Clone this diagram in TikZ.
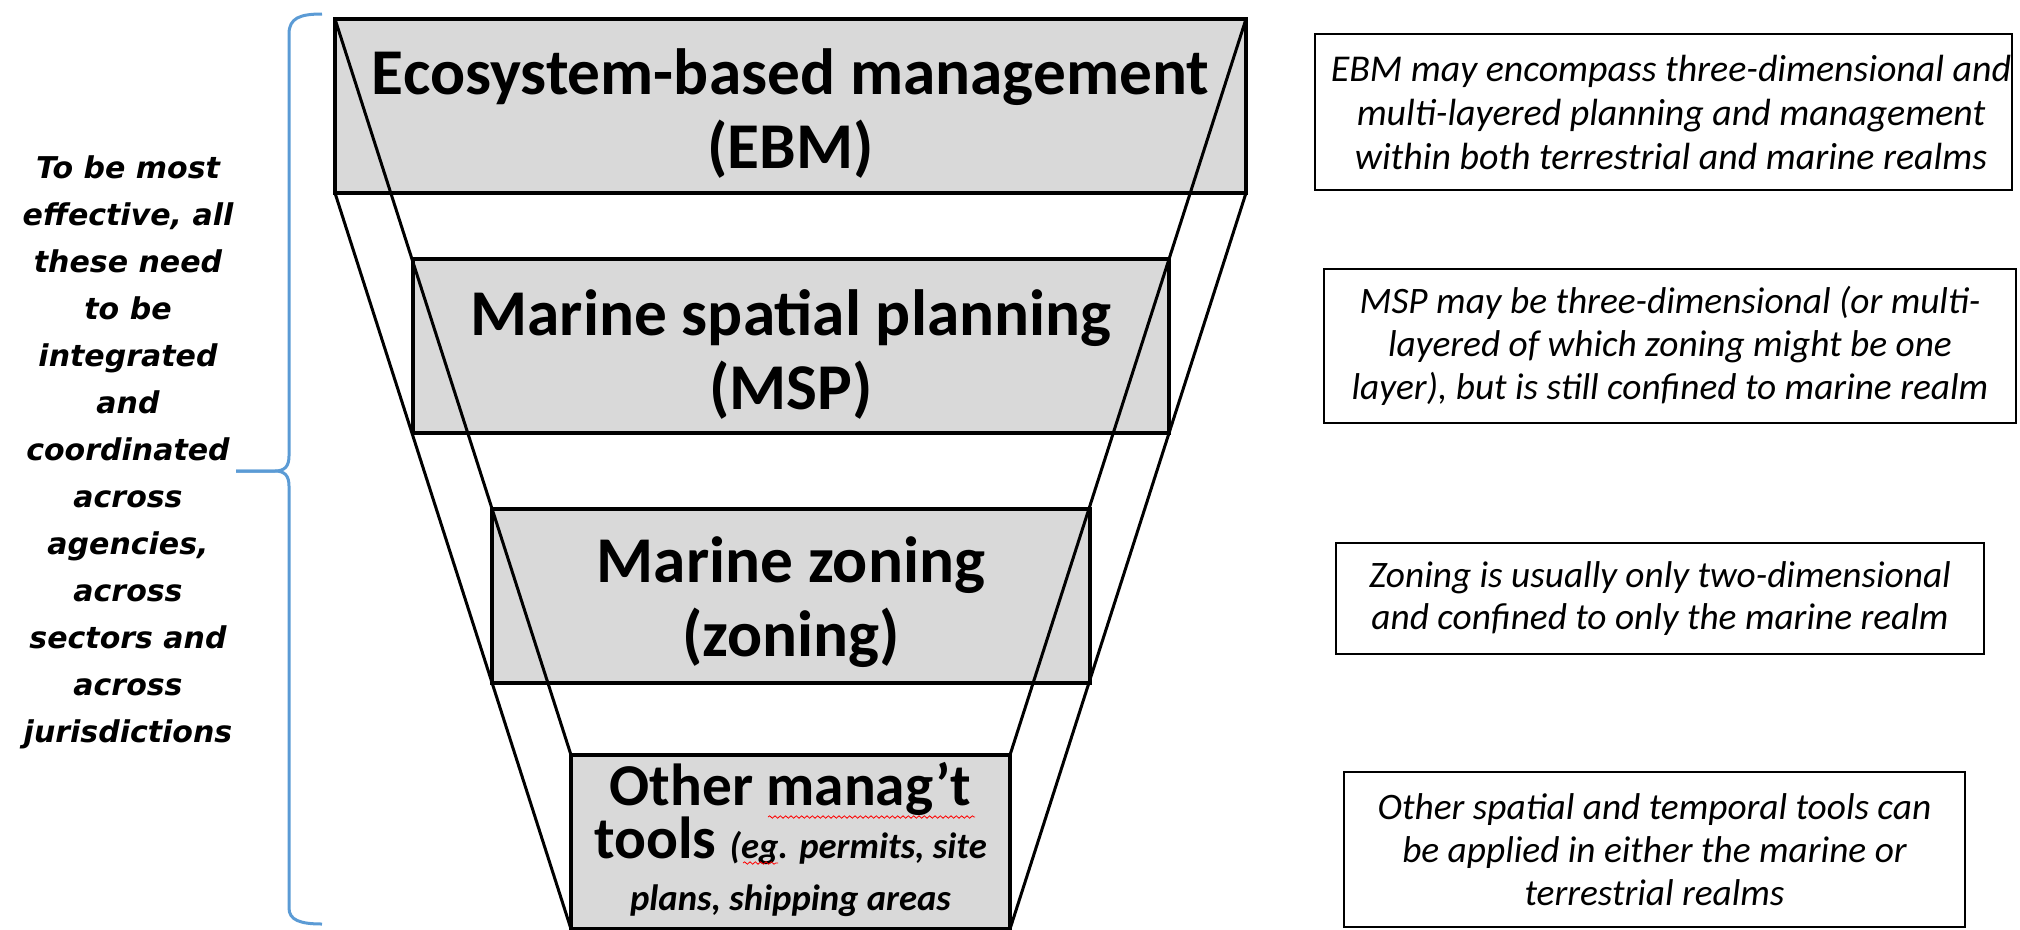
\documentclass[tikz,border=0pt]{standalone}
\usepackage{fontspec}
\setmainfont{Carlito}
\newfontfamily\leftfont{DejaVu Sans Bold Oblique}
\usetikzlibrary{decorations.pathmorphing}
\definecolor{boxgray}{RGB}{217,217,217}
\definecolor{braceblue}{RGB}{91,155,213}
\begin{document}
\begin{tikzpicture}[x=0.75pt,y=-0.75pt,
  layer/.style={draw=black,line width=3pt,fill=boxgray,inner sep=0pt,outer sep=0pt,minimum height=130.5pt},
  layertext/.style={align=center,inner sep=0pt,font=\fontsize{49}{55.5}\selectfont\bfseries},
  funnel/.style={draw=black,line width=2.25pt},
  note/.style={draw=black,line width=1.5pt,inner sep=0pt,outer sep=0pt,align=center,font=\fontsize{28}{32}\selectfont\itshape},
  bignote/.style={note,font=\fontsize{28.4}{33}\selectfont\itshape},
  notetext/.style={align=center,inner sep=0pt,font=\fontsize{28.4}{33}\selectfont\itshape},
  brace/.style={draw=braceblue,line width=2.25pt},
  spell/.style={draw=red,line width=0.6pt,decorate,decoration={snake,amplitude=0.9pt,segment length=4pt}}]
\useasboundingbox (0,0) rectangle (2020,929);
% layers
\node[layer,minimum width=683.25pt] (ebm) at (790.5,106) {};
\node[layer,minimum width=567pt] (msp) at (791,346) {};
\node[layer,minimum width=448.5pt] (zon) at (791,596) {};
\node[layer,minimum width=329.25pt] (oth) at (790.5,842) {};
% funnel lines
\draw[funnel] (ebm.north west) -- (oth.north west);
\draw[funnel] (ebm.south west) -- (oth.south west);
\draw[funnel] (ebm.north east) -- (oth.north east);
\draw[funnel] (ebm.south east) -- (oth.south east);
% layer texts
\node[layertext] (ebmt) at (790.5,114) {Ecosystem-based management\\(EBM)};
\node[layertext] (mspt) at (791,354) {Marine spatial planning\\(MSP)};
\node[layertext] (zont) at (791,602) {Marine zoning\\(zoning)};
\node[align=center,inner sep=0pt,font=\fontsize{44.5}{34}\selectfont\bfseries] (otht) at (790.5,839)
  {Other manag’t\\tools {\fontsize{27.5}{33}\selectfont\itshape (eg. permits, site}\\[5pt]
   {\fontsize{27.5}{33}\selectfont\itshape plans, shipping areas}};
\draw[spell] (768,817) -- (975,817);
\draw[spell] (743,863) -- (778,863);
% notes
\node[note,minimum width=522.75pt,minimum height=117pt] (n1) at (1663.5,112) {};
\node[notetext] (n1t) at (1671,112)
  {EBM may encompass three-dimensional and\\multi-layered planning and management\\within both terrestrial and marine realms};
\node[note,minimum width=519pt,minimum height=115.5pt] (n2) at (1670,346)
  {MSP may be three-dimensional (or multi-\\layered of which zoning might be one\\layer), but is still confined to marine realm};
\node[note,minimum width=486pt,minimum height=83.25pt] (n3) at (1660,598.5)
  {Zoning is usually only two-dimensional\\and confined to only the marine realm};
\node[note,minimum width=465.75pt,minimum height=116.25pt] (n4) at (1654.5,849.5)
  {Other spatial and temporal tools can\\be applied in either the marine or\\terrestrial realms};
% left text and brace
\node[align=center,inner sep=0pt,font=\leftfont\fontsize{22.5}{35.25}\selectfont] (lt) at (128,452)
  {To be most\\effective, all\\these need\\to be\\integrated\\and\\coordinated\\across\\agencies,\\across\\sectors and\\across\\jurisdictions};
\coordinate (tip) at (236,471);
\draw[brace] (322,14) .. controls (300,14) and (289,18) .. (289,34) -- (289,456)
  .. controls (289,466) and (285,471) .. (275,471) -- (tip);
\draw[brace] (tip) -- (275,471) .. controls (285,471) and (289,476) .. (289,486) -- (289,908)
  .. controls (289,920) and (300,924) .. (322,924);
\end{tikzpicture}
\end{document}
